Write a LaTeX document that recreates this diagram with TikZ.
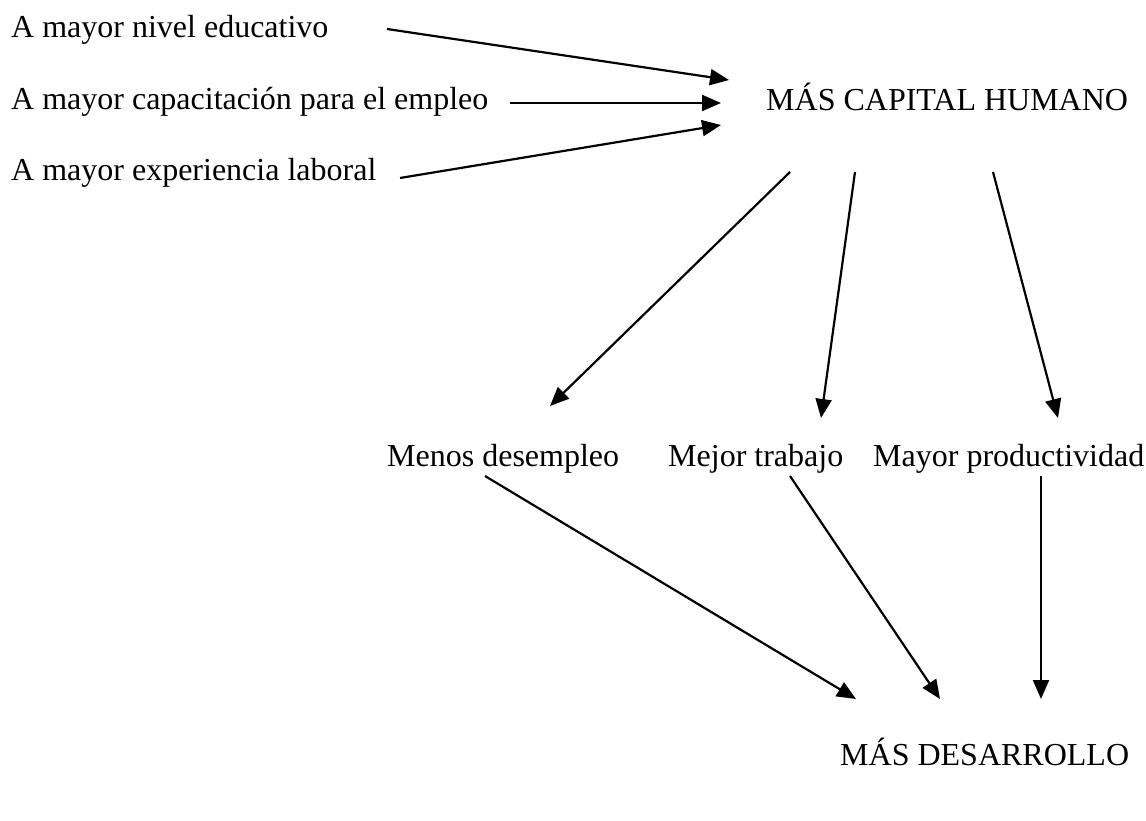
\documentclass[tikz,border=0pt]{standalone}
\usepackage{fontspec}
\setmainfont{Liberation Serif}
\usetikzlibrary{arrows.meta}
\begin{document}
\begin{tikzpicture}[x=1pt,y=-1pt,
  lbl/.style={anchor=base west,inner sep=0pt,font=\fontsize{32}{38}\selectfont},
  arr/.style={line width=2.2pt,-{Triangle[length=19pt,width=16pt]}}]
\useasboundingbox (0,0) rectangle (1146,821);
\node[lbl] (t1) at (11,38) {A mayor nivel educativo};
\node[lbl] (t2) at (11,110) {A mayor capacitación para el empleo};
\node[lbl] (t3) at (11,181) {A mayor experiencia laboral};
\node[lbl] (ch) at (766,111) {MÁS CAPITAL HUMANO};
\node[lbl] (m1) at (387,466) {Menos desempleo};
\node[lbl] (m2) at (668,466) {Mejor trabajo};
\node[lbl] (m3) at (873,466) {Mayor productividad};
\node[lbl] (d) at (840,765) {MÁS DESARROLLO};
% connector ends
\coordinate (a1s) at (387,29); \coordinate (a1e) at (729,80);
\coordinate (a2s) at (510,103); \coordinate (a2e) at (721,103);
\coordinate (a3s) at (400,178); \coordinate (a3e) at (721,125);
\coordinate (b1s) at (790,172); \coordinate (b1e) at (550,406);
\coordinate (b2s) at (855,172); \coordinate (b2e) at (821,418);
\coordinate (b3s) at (993,172); \coordinate (b3e) at (1058,418);
\coordinate (c1s) at (485,476); \coordinate (c1e) at (856,699);
\coordinate (c2s) at (790,476); \coordinate (c2e) at (940,699);
\coordinate (c3s) at (1041,476); \coordinate (c3e) at (1041,699);
\draw[arr] (a1s) -- (a1e);
\draw[arr] (a2s) -- (a2e);
\draw[arr] (a3s) -- (a3e);
\draw[arr] (b1s) -- (b1e);
\draw[arr] (b2s) -- (b2e);
\draw[arr] (b3s) -- (b3e);
\draw[arr] (c1s) -- (c1e);
\draw[arr] (c2s) -- (c2e);
\draw[arr] (c3s) -- (c3e);
\end{tikzpicture}
\end{document}
